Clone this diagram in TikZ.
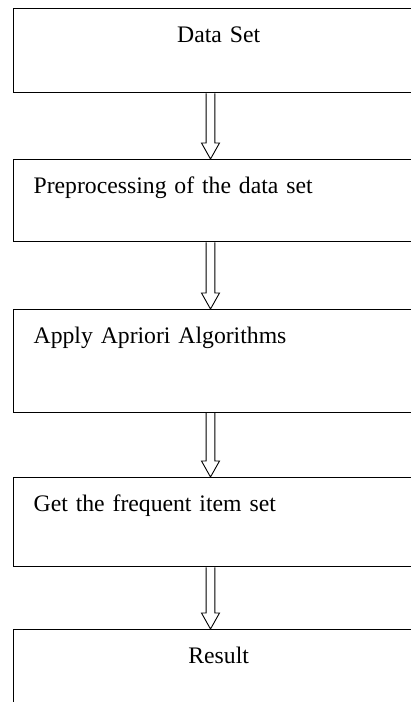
\documentclass[tikz,border=0pt]{standalone}
\usepackage{fontspec}
\setmainfont{Liberation Serif}
\usetikzlibrary{positioning, calc}

\begin{document}
\begin{tikzpicture}[x=1pt, y=-1pt,
    % Stile dei blocchi del flusso
    block_box/.style = {
        draw,
        line width=1.3pt,
        anchor=north west,
        inner xsep=20pt,
        inner ysep=0pt,
        text width=370pt,
        text height=33.5pt,
        font=\fontsize{23.7}{28}\selectfont
    },
    % Freccia vuota tra i blocchi
    hollow_arrow/.style = {
        draw,
        line width=0.9pt,
        fill=white,
        to path={
            let \p1=(\tikztostart), \p2=(\tikztotarget) in
            (\x1-4.4pt,\y1) -- (\x1-4.4pt,\y2+16pt) -- (\x1-9pt,\y2+16pt)
            -- (\x1,\y2) -- (\x1+9pt,\y2+16pt) -- (\x1+4.4pt,\y2+16pt)
            -- (\x1+4.4pt,\y1)
        }
    }
]

% 1. Area visibile
\clip (0, 0) rectangle (411, 702);

% 2. Blocchi
\node[block_box, align=center, text depth=50.5pt] (data) at (13, 8) {Data Set};
\node[block_box, align=left, text depth=48.5pt] (prep) at (13, 159) {Preprocessing of the data set};
\node[block_box, align=left, text depth=69.2pt] (apriori) at (13, 309) {Apply Apriori Algorithms};
\node[block_box, align=left, text depth=55.5pt] (freq) at (13, 477) {Get the frequent item set};
\node[block_box, align=center, text depth=120pt] (result) at (13, 629) {Result};

% 3. Frecce
\coordinate (axis) at (210.5, 0);
\draw[hollow_arrow] (data.south -| axis) to (prep.north -| axis);
\draw[hollow_arrow] (prep.south -| axis) to (apriori.north -| axis);
\draw[hollow_arrow] (apriori.south -| axis) to (freq.north -| axis);
\draw[hollow_arrow] (freq.south -| axis) to (result.north -| axis);

\end{tikzpicture}
\end{document}
